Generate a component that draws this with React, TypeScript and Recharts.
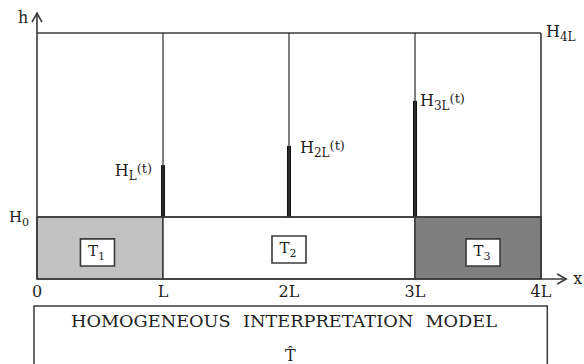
import React from 'react'
import {
  ComposedChart,
  XAxis,
  YAxis,
  Bar,
  ReferenceLine,
  ReferenceArea,
  ReferenceDot,
} from 'recharts'

// positions along the aquifer, in units of L
const xTicks = [0, 1, 2, 3, 4]
const xTickLabels = ['0', 'L', '2L', '3L', '4L']

// piezometer stations and the head read at each one (h scale 0..100)
const stations = [1, 2, 3]
const headLevels = [46.3, 54.1, 72.4]
const headSubs = ['L', '2L', '3L']

// boundary heads
const h0 = 25.2
const h4L = 100

// zones with their own transmissivity
const zoneStarts = [0, 1, 3]
const zoneEnds = [1, 3, 4]
const zoneNames = ['1', '2', '3']
const zoneBoxX = [0.48, 2.0, 3.54]

const modelTitle = 'HOMOGENEOUS INTERPRETATION MODEL'
const modelSymbol = 'T\u0302'

const font = '"DejaVu Serif", "Liberation Serif", serif'
const ink = '#3a3a3a'
const zoneFills = ['#c2c2c2', '#ffffff', '#7f7f7f']

const headData = stations.map((x, i) => ({ x, range: [h0, headLevels[i]] }))

function SubText({ x, y, base, sub, sup, anchor = 'start', size = 16 }: any) {
  const small = Math.round(size * 0.72)
  return (
    <text x={x} y={y} textAnchor={anchor} fontFamily={font} fontSize={size} fill="#1e1e1e">
      <tspan>{base}</tspan>
      {sub ? (
        <tspan dy={4} fontSize={small}>
          {sub}
        </tspan>
      ) : null}
      {sup ? (
        <tspan dy={-7} fontSize={small + 1}>
          {sup}
        </tspan>
      ) : null}
    </text>
  )
}

function ArrowLine(props: any) {
  const { x1, y1, x2, y2 } = props
  const horizontal = Math.abs(y2 - y1) < 1
  const head = horizontal
    ? `M${x2 - 9},${y2 - 5} L${x2},${y2} L${x2 - 9},${y2 + 5}`
    : `M${x2 - 5},${y2 + 9} L${x2},${y2} L${x2 + 5},${y2 + 9}`
  return (
    <g>
      <line x1={x1} y1={y1} x2={x2} y2={y2} stroke={ink} strokeWidth={1.6} />
      <path d={head} fill="none" stroke={ink} strokeWidth={1.6} />
    </g>
  )
}

function XTick(props: any) {
  const { x, y, payload } = props
  return (
    <text x={x} y={y + 10} textAnchor="middle" fontFamily={font} fontSize={16} fill="#1e1e1e">
      {xTickLabels[xTicks.indexOf(payload.value)]}
    </text>
  )
}

export default function App() {
  return (
    <div style={{ position: 'absolute', left: 0, top: 0, width: 584, height: 364, background: '#fff', overflow: 'hidden' }}>
      <ComposedChart
        width={584}
        height={364}
        data={headData}
        margin={{ top: 33, right: 43, left: 37, bottom: 55 }}
      >
        <XAxis
          dataKey="x"
          type="number"
          domain={[0, 4]}
          ticks={xTicks}
          height={30}
          axisLine={false}
          tickLine={false}
          tick={<XTick />}
          interval={0}
        />
        <YAxis type="number" domain={[0, 100]} hide />

        {zoneStarts.map((x1, i) => (
          <ReferenceArea
            key={'z' + i}
            x1={x1}
            x2={zoneEnds[i]}
            y1={0}
            y2={h0}
            fill={zoneFills[i]}
            fillOpacity={1}
            stroke={ink}
            strokeWidth={1.5}
          />
        ))}

        <ReferenceLine segment={[{ x: 0, y: h4L }, { x: 4, y: h4L }]} stroke={ink} strokeWidth={1.6} />
        <ReferenceLine segment={[{ x: 0, y: h0 }, { x: 4, y: h0 }]} stroke={ink} strokeWidth={1.6} />
        <ReferenceLine segment={[{ x: 4, y: 0 }, { x: 4, y: h4L }]} stroke={ink} strokeWidth={1.6} />
        {stations.map((x) => (
          <ReferenceLine
            key={'s' + x}
            segment={[{ x, y: h0 }, { x, y: h4L }]}
            stroke={ink}
            strokeWidth={1.3}
          />
        ))}

        {zoneBoxX.map((x, i) => (
          <ReferenceArea
            key={'b' + i}
            x1={x - 0.135}
            x2={x + 0.135}
            y1={i === 1 ? 6.5 : 5.3}
            y2={i === 1 ? 17.5 : 16.3}
            fill="#fff"
            fillOpacity={1}
            stroke={ink}
            strokeWidth={1.6}
            label={{
              content: (p: any) => (
                <SubText
                  x={p.viewBox.x + p.viewBox.width / 2 - 1}
                  y={p.viewBox.y + p.viewBox.height / 2 + 4}
                  base="T"
                  sub={zoneNames[i]}
                  anchor="middle"
                  size={15}
                />
              ),
            }}
          />
        ))}

        <Bar dataKey="range" barSize={4} fill="#111" isAnimationActive={false} />

        {stations.map((x, i) => (
          <ReferenceDot
            key={'h' + x}
            x={x}
            y={headLevels[i]}
            r={0}
            ifOverflow="visible"
            shape={(p: any) =>
              i === 0 ? (
                <SubText x={p.cx - 11} y={p.cy + 11} base="H" sub={headSubs[i]} sup="(t)" anchor="end" />
              ) : i === 1 ? (
                <SubText x={p.cx + 11} y={p.cy + 7} base="H" sub={headSubs[i]} sup="(t)" />
              ) : (
                <SubText x={p.cx + 5} y={p.cy + 5} base="H" sub={headSubs[i]} sup="(t)" />
              )
            }
          />
        ))}

        <ReferenceLine
          segment={[{ x: 0, y: 0 }, { x: 4.2, y: 0 }]}
          ifOverflow="visible"
          shape={<ArrowLine />}
        />
        <ReferenceLine
          segment={[{ x: 0, y: 0 }, { x: 0, y: 108.1 }]}
          ifOverflow="visible"
          shape={<ArrowLine />}
        />

        <ReferenceDot x={4.2} y={0} r={0} ifOverflow="visible"
          shape={(p: any) => <SubText x={p.cx + 7} y={p.cy + 5} base="x" size={16} />} />
        <ReferenceDot x={0} y={108.1} r={0} ifOverflow="visible"
          shape={(p: any) => <SubText x={p.cx - 19} y={p.cy + 10} base="h" size={16} />} />
        <ReferenceDot x={0} y={h0} r={0} ifOverflow="visible"
          shape={(p: any) => <SubText x={p.cx - 28} y={p.cy + 5} base="H" sub="0" size={15} />} />
        <ReferenceDot x={4} y={h4L} r={0} ifOverflow="visible"
          shape={(p: any) => <SubText x={p.cx + 5} y={p.cy + 4} base="H" sub="4L" size={16} />} />

        <ReferenceArea
          x1={-0.024}
          x2={4.05}
          y1={-45}
          y2={-11}
          ifOverflow="visible"
          fill="#fff"
          fillOpacity={1}
          stroke={ink}
          strokeWidth={1.5}
        />
        <ReferenceDot x={1.96} y={-19.5} r={0} ifOverflow="visible"
          shape={(p: any) => (
            <text x={p.cx} y={p.cy} textAnchor="middle" fontFamily={font} fontSize={16}
              fill="#1e1e1e" wordSpacing={6} textLength={426} lengthAdjust="spacingAndGlyphs">
              {modelTitle}
            </text>
          )} />
        <ReferenceDot x={2.01} y={-33.3} r={0} ifOverflow="visible"
          shape={(p: any) => (
            <text x={p.cx} y={p.cy} textAnchor="middle" fontFamily={font} fontSize={16} fill="#1e1e1e">
              {modelSymbol}
            </text>
          )} />
      </ComposedChart>
    </div>
  )
}
